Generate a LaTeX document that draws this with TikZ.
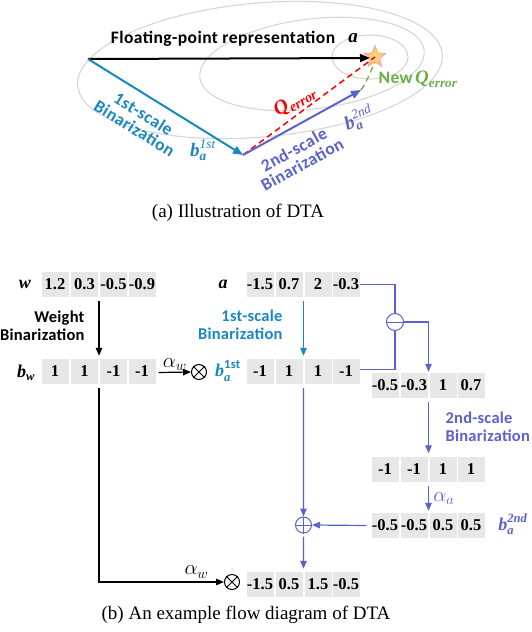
\documentclass[tikz,border=0pt]{standalone}
\usepackage{amsmath}
\usepackage{fontspec}
\setmainfont{Liberation Serif}
\newfontfamily\sansb[LetterSpace=2.5]{Carlito}
\newfontfamily\sansc[LetterSpace=1.5]{Carlito}
\usetikzlibrary{arrows.meta,shapes.geometric,calc}
\newcommand\bi[1]{\textbf{\textit{#1}}}
\definecolor{tealA}{RGB}{24,136,192}
\definecolor{purp}{RGB}{90,98,204}
\definecolor{cellgray}{RGB}{231,231,231}
\definecolor{ellgray}{RGB}{214,214,214}
\definecolor{grn}{RGB}{112,173,71}
\begin{document}
\begin{tikzpicture}[x=1pt,y=-1pt,
  cell/.style={fill=cellgray, minimum width=27pt, minimum height=25pt, inner sep=0pt, font=\fontsize{16.5}{18}\selectfont\bfseries},
  sanslbl/.style={font=\sansc\bfseries\fontsize{16.5}{20}\selectfont},
  toplbl/.style={font=\sansb\bfseries\fontsize{17.5}{20}\selectfont},
  mathlbl/.style={font=\fontsize{18}{20}\selectfont},
  alphalbl/.style={font=\fontsize{20.74}{22}\selectfont},
  arrK/.style={line width=1.2pt, -{Triangle[length=8pt,width=6.5pt]}},
  bigarr/.style={line width=2pt, -{Triangle[length=10pt,width=8pt]}},
  opnode/.style={circle, draw, minimum size=15pt, inner sep=0pt, line width=1pt},
  captext/.style={font=\fontsize{19}{21}\selectfont}
]
\useasboundingbox (0,0) rectangle (532,632);

% ---------- (a) ----------
\draw[ellgray, line width=1.1pt, rotate around={5:(260,70)}] (260,70) ellipse [x radius=183pt, y radius=67pt];
\draw[ellgray, line width=1.1pt, rotate around={7:(312,64)}] (312,64) ellipse [x radius=113pt, y radius=45pt];
\draw[ellgray, line width=1.1pt] (370,57) ellipse [x radius=38pt, y radius=22pt];

\coordinate (O) at (88,59);
\coordinate (P) at (243,155);
\coordinate (Q) at (361,90);
\node[star, star points=5, star point ratio=2.3, minimum size=24pt, inner sep=0pt,
      inner color={rgb,255:red,255;green,221;blue,120}, outer color={rgb,255:red,246;green,170;blue,135}, draw={rgb,255:red,246;green,175;blue,140}] (S) at (375,57) {};

\draw[red, line width=1.5pt, dash pattern=on 6pt off 4pt] (P) -- (S.center);
\draw[grn, line width=1.3pt, dash pattern=on 6pt off 4pt] (Q) .. controls (368,80) and (370,72) .. (S.south);
\draw[bigarr, black] (O) -- ($(S.center)+(-5,1)$);
\draw[bigarr, tealA] (O) -- (P);
\draw[bigarr, purp] (P) -- (Q);

\node[toplbl] (fp) at (223,39) {Floating-point representation};
\node[mathlbl, font=\fontsize{19}{20}\selectfont] (fa) at (353,38) {$\bi{a}$};
\node[toplbl, tealA, align=center, rotate=-32] (l1) at (139,121) {1st-scale\\[-3pt]Binarization};
\node[toplbl, purp, align=center, rotate=29] (l2) at (298,157) {2nd-scale\\[-3pt]Binarization};
\node[mathlbl, tealA, font=\fontsize{19}{20}\selectfont] (b1) at (203,150) {$\bi{b}_{\bi{a}}^{\textit{1st}}$};
\node[mathlbl, purp, rotate=22, font=\fontsize{19}{20}\selectfont] (b2) at (359,119) {$\bi{b}_{\bi{a}}^{\textit{2nd}}$};
\node[red, rotate=30, font=\fontsize{20}{20}\selectfont] (qe) at (295,101) {$\bi{Q}_{\bi{error}}$};
\node[grn, anchor=west] (nq) at (375,79) {{\sansb\bfseries\fontsize{17.5}{20}\selectfont New} {\fontsize{19}{20}\selectfont$\bi{Q}_{\bi{error}}$}};

\node[captext] (capa) at (238,213) {(a) Illustration of DTA};

% ---------- (b) ----------
\node[mathlbl] (wl) at (25,284) {$\bi{w}$};
\foreach \v/\x [count=\i] in {1.2/55,0.3/84.5,-0.5/113.5,-0.9/142}
  \node[cell] (w\i) at (\x,284.5) {\v};
\node[mathlbl] (al) at (223,284) {$\bi{a}$};
\foreach \v/\x [count=\i] in {-1.5/260,0.7/289,2/318,-0.3/346}
  \node[cell] (a\i) at (\x,284.5) {\v};

\node[mathlbl] (bwl) at (26,373) {$\bi{b}_{\bi{w}}$};
\foreach \v/\x [count=\i] in {1/55,1/84.5,-1/113.5,-1/142}
  \node[cell] (bw\i) at (\x,371.5) {\v};
\foreach \v/\x [count=\i] in {-1/260,1/289,1/318,-1/346}
  \node[cell] (ba\i) at (\x,371.5) {\v};

\foreach \v/\x [count=\i] in {-0.5/385,-0.3/414,1/443,0.7/471}
  \node[cell] (d\i) at (\x,385.5) {\v};
\foreach \v/\x [count=\i] in {-1/385,-1/414,1/443,1/471}
  \node[cell] (s\i) at (\x,469) {\v};
\foreach \v/\x [count=\i] in {-0.5/385,-0.5/414,0.5/443,0.5/471}
  \node[cell] (c\i) at (\x,525.5) {\v};
\foreach \v/\x [count=\i] in {-1.5/260,0.5/289,1.5/318,-0.5/346}
  \node[cell] (f\i) at (\x,584.5) {\v};

% weight binarization
\draw[arrK] ($(w2.south east)!0.5!(w3.south west)+(0,4)$) -- ($(bw2.north east)!0.5!(bw3.north west)+(0,-3)$);
\node[sanslbl, align=right, anchor=east] (wb) at (88,326) {Weight\\[-2pt]Binarization};

% alpha_w multiply with b_a^1st
\node[opnode] (ot1) at (199,372) {};
\draw[line width=1pt] (ot1.north east) -- (ot1.south west) (ot1.north west) -- (ot1.south east);
\draw[arrK] ($(bw4.east)+(3,1)$) -- (ot1.west) node[midway, above=-2pt, alphalbl] {$\alpha_w$};
\node[mathlbl, tealA] (ba1l) at (228,371) {$\bi{b}_{\bi{a}}^{\text{\sansc\bfseries 1st}}$};

% 1st-scale binarization
\draw[arrK, tealA] ($(a2.south east)!0.5!(a3.south west)+(0,4)$) -- ($(ba2.north east)!0.5!(ba3.north west)+(0,-3)$);
\node[sanslbl, tealA, align=right, anchor=east] (fsb) at (286,325) {1st-scale\\[-2pt]Binarization};

% subtraction
\node[opnode, purp, minimum size=17pt] (om) at (395,322) {};
\draw[purp, line width=1pt] (om.west) -- (om.east);
\draw[purp, line width=1.2pt] (a4.east) -| (om.north);
\draw[purp, line width=1.2pt] ($(ba4.east)+(0,-2)$) -| (om.south);
\draw[arrK, purp] (om.east) -| ($(d2.north east)!0.5!(d3.north west)+(0,-1)$);

% 2nd-scale binarization
\draw[arrK, purp] ($(d2.south east)!0.5!(d3.south west)+(0,4)$) -- ($(s2.north east)!0.5!(s3.north west)+(0,-3)$);
\node[sanslbl, purp, align=left, anchor=west] (ssb) at (442,427) {2nd-scale\\[-2pt]Binarization};
\draw[arrK, purp] ($(s2.south east)!0.5!(s3.south west)+(0,4)$) -- ($(c2.north east)!0.5!(c3.north west)+(0,-2)$) node[midway, right=1pt, alphalbl, purp] {$\alpha_{a}$};
\node[mathlbl, purp] (b2l) at (513,524) {$\bi{b}_{\bi{a}}^{\bi{2nd}}$};

% addition
\node[opnode, purp, minimum size=16pt] (op) at (303.5,525) {};
\draw[purp, line width=1pt] (op.west) -- (op.east) (op.north) -- (op.south);
\draw[arrK, purp] ($(c1.west)+(-5,0)$) -- (op.east);
\draw[arrK, purp] ($(ba2.south east)!0.5!(ba3.south west)+(0,4)$) -- (op.north);
\draw[arrK, purp] ($(op.south)+(0,3)$) -- ($(f2.north east)!0.5!(f3.north west)+(0,-3)$);

% second multiply
\node[opnode] (ot2) at (232,582) {};
\draw[line width=1pt] (ot2.north east) -- (ot2.south west) (ot2.north west) -- (ot2.south east);
\draw[arrK] ($(bw2.south east)!0.5!(bw3.south west)+(0,4)$) |- (ot2.west) node[pos=0.89, above=0pt, alphalbl] {$\alpha_w$};

\node[captext] (capb) at (246,615) {(b) An example flow diagram of DTA};
\end{tikzpicture}
\end{document}
